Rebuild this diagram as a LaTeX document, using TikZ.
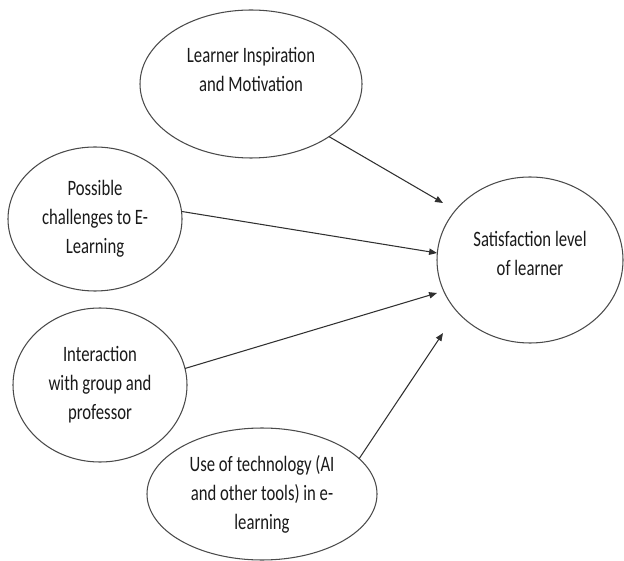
\documentclass[tikz,border=0pt]{standalone}
\usepackage{fontspec}
\usepackage{tikz}
\usetikzlibrary{arrows.meta, positioning, shapes.geometric}
\newfontfamily\figfont{Carlito}[FakeStretch=0.76]
\definecolor{mline}{HTML}{4A4A4A}
\definecolor{marrow}{HTML}{303030}
\definecolor{mtext}{HTML}{1A1A1A}
\tikzset{
  factor/.style={ellipse, draw=mline, line width=0.6pt, fill=white, align=center,
                 inner sep=0pt, outer sep=0pt, text=mtext,
                 font=\figfont\fontsize{12.5}{16.5}\selectfont},
  arr/.style={-{Triangle[length=4.5pt, width=3.6pt]}, line width=0.6pt, marrow},
}

\begin{document}
\begin{tikzpicture}
  \useasboundingbox (0,0) rectangle (12.48,11.2);

  %% Influencing factors
  \node[factor, minimum width=4.44cm, minimum height=2.96cm]
    (lim) at (5.02,9.52) {Learner Inspiration\\and Motivation\\~};
  \node[factor, minimum width=3.48cm, minimum height=2.88cm]
    (pce) at (1.90,6.82) {Possible\\challenges to E-\\Learning};
  \node[factor, minimum width=3.48cm, minimum height=3.08cm]
    (igp) at (2.00,3.50) {Interaction\\with group and\\professor};
  \node[factor, minimum width=4.60cm, minimum height=2.64cm]
    (tech) at (5.24,1.32) {Use of technology (AI\\and other tools) in e-\\learning};

  %% Outcome (text sits a little above the middle)
  \node[factor, minimum width=3.72cm, minimum height=3.32cm, text depth=0.28cm]
    (sat) at (10.60,6.00) {Satisfaction level\\of learner};

  %% Arrow heads stop short of the outcome ellipse
  \coordinate (e1) at (8.86,7.14);
  \coordinate (e2) at (8.74,6.14);
  \coordinate (e3) at (8.74,5.34);
  \coordinate (e4) at (8.86,4.54);

  \draw[arr] (lim.-34) -- (e1);
  \draw[arr] (pce.5) -- (e2);
  \draw[arr] (igp.11) -- (e3);
  \draw[arr] (tech.20) -- (e4);

\end{tikzpicture}
\end{document}
